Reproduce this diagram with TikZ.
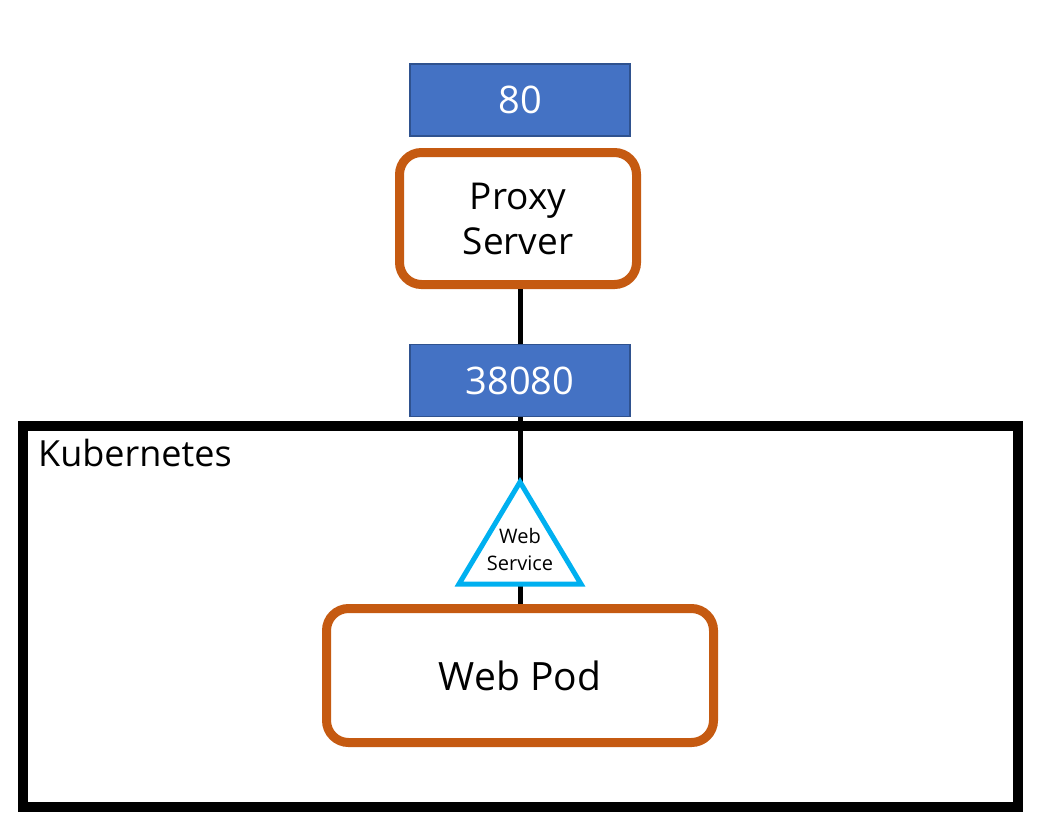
\documentclass[tikz,border=0pt]{standalone}
\usepackage{fontspec}
\setmainfont{Open Sans}
\definecolor{portblue}{HTML}{4472C4}
\definecolor{portedge}{HTML}{2F528F}
\definecolor{podorange}{HTML}{C55A11}
\definecolor{svccyan}{HTML}{00B0F0}
\begin{document}
\begin{tikzpicture}[x=1pt,y=-1pt,
  port/.style={draw=portedge,fill=portblue,line width=1.2pt,minimum width=220pt,minimum height=72pt,inner sep=0pt,text=white,font=\fontsize{38}{44}\selectfont},
  roundbox/.style={draw=podorange,fill=white,line width=9pt,rounded corners=22pt,inner sep=0pt,align=center},
  link/.style={line width=5pt,black},
  ]
\useasboundingbox (0,0) rectangle (1044,839);
\fill[white] (0,0) rectangle (1044,839);
% frame
\node[draw=black,line width=10pt,minimum width=995pt,minimum height=381pt,inner sep=0pt] (k8s) at (520.5,616.5) {};
\node[anchor=north west,inner sep=0pt,font=\fontsize{36}{44}\selectfont] (k8slabel) at (38,439) {Kubernetes};
% ports
\node[port] (p80) at (520,100) {80};
\node[port] (p38080) at (520,380.5) {38080};
% proxy
\node[roundbox,minimum width=237pt,minimum height=132pt,font=\fontsize{37}{45}\selectfont] (proxy) at (518,218.5) {Proxy\\Server};
% pod
\node[roundbox,minimum width=387pt,minimum height=134pt,font=\fontsize{39}{46}\selectfont] (pod) at (520,675.5) {Web Pod};
% service triangle
\coordinate (svcTop) at (520,482);
\coordinate (svcBase) at (520,584);
\draw[link] (p38080.north |- proxy.south) -- (p38080.north);
\draw[link] (p38080.south) -- (svcTop);
\draw[link] (svcBase) -- (pod.north);
\draw[svccyan,fill=white,line width=5pt,line join=miter] (svcTop) -- (581,584) -- (459,584) -- cycle;
\node[inner sep=0pt,align=center,font=\fontsize{20}{27}\selectfont] (svc) at (520,549) {Web\\Service};
\end{tikzpicture}
\end{document}
